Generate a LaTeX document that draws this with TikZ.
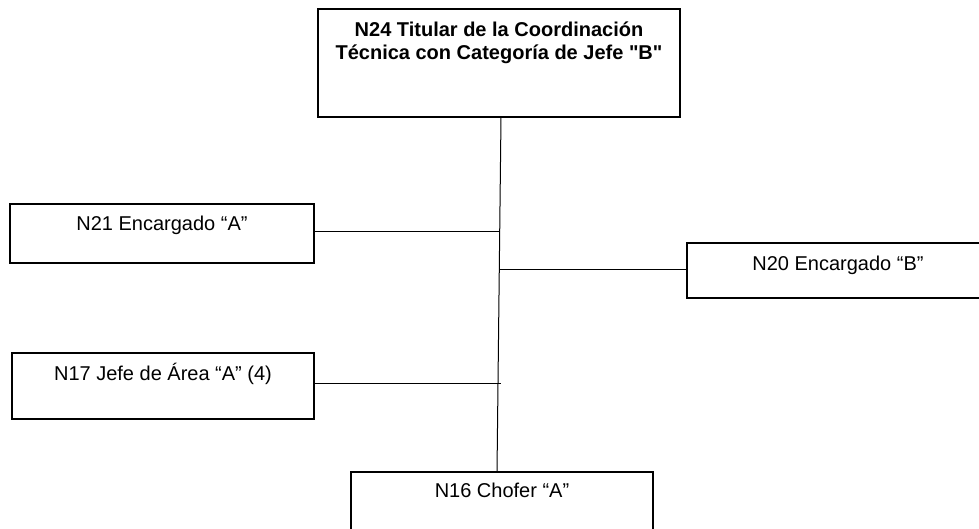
\documentclass[tikz,border=0pt]{standalone}
\usepackage{fontspec}
\setmainfont{Liberation Sans}[Ligatures=TeXOff]

\begin{document}
\begin{tikzpicture}[x=1pt,y=-1pt,
  post/.style={draw,line width=1.1pt,anchor=north west,outer sep=0pt,
    inner ysep=0pt,align=center,font=\fontsize{20}{23.5}\selectfont,
    text height=27pt},
  link/.style={line width=1pt}]
\clip (0,0) rectangle (979,529);
\node[post,minimum width=362pt,text height=51pt,text depth=57pt] (top) at (318,9)
  {\textbf{N24 Titular de la Coordinación}\\\textbf{Técnica con Categoría de Jefe "B"}};
\node[post,minimum width=304pt,text depth=32pt] (n21) at (10,204) {N21 Encargado “A”};
\node[post,minimum width=302pt,text depth=28pt] (n20) at (687,243) {N20 Encargado “B”};
\node[post,minimum width=302pt,text depth=39pt] (n17) at (12,353) {N17 Jefe de Área “A” (4)};
\node[post,minimum width=302pt,text height=25pt,text depth=80pt] (n16) at (351,472) {N16 Chofer “A”};
\coordinate (j21) at (499,232);
\coordinate (j20) at (500,269);
\coordinate (j17) at (501,383);
\draw[link] ([xshift=2pt]top.south) -- ([xshift=-5pt]n16.north);
\draw[link] (n21.east |- j21) -- (j21);
\draw[link] (j20) -- (n20.west |- j20);
\draw[link] (n17.east |- j17) -- (j17);
\end{tikzpicture}
\end{document}
